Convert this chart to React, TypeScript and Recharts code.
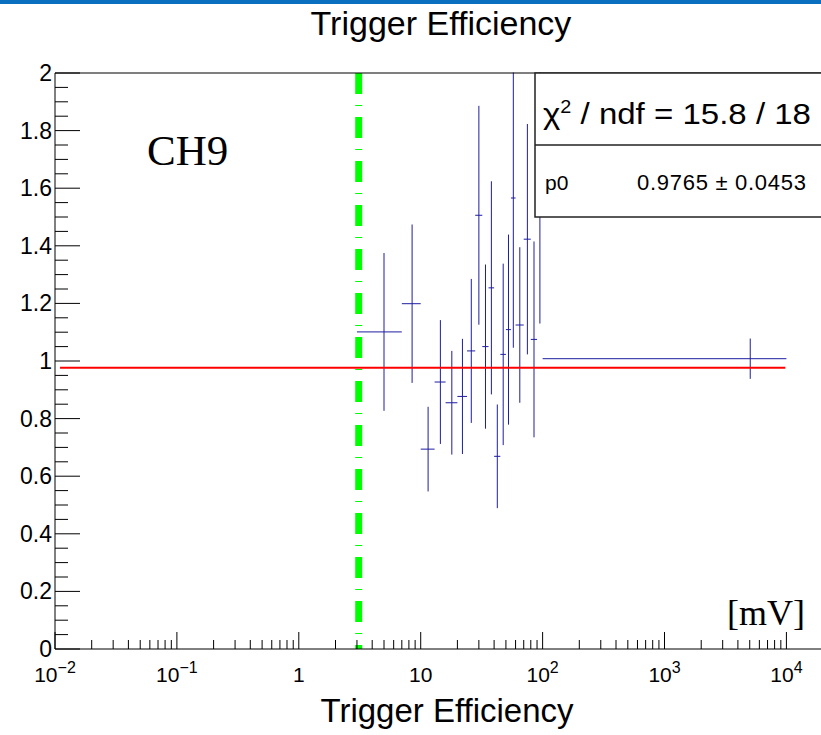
import React from 'react';
import { ScatterChart, Scatter, XAxis, YAxis, ErrorBar, ReferenceLine } from 'recharts';

// bins in mV (variable width), efficiency and its error per bin
const binLow = [3, 7, 10, 13, 16, 20, 24, 28, 32, 36, 40, 45, 50, 55, 60, 70, 80, 90, 100];
const binHigh = [7, 10, 13, 16, 20, 24, 28, 32, 36, 40, 45, 50, 55, 60, 70, 80, 90, 100, 10000];
const efficiency = [1.101, 1.199, 0.694, 0.927, 0.855, 0.877, 1.035, 1.506, 1.05, 1.254, 0.669, 1.023, 1.109, 1.566, 1.125, 1.423, 1.075, 1.63, 1.008];
const effError = [0.274, 0.275, 0.147, 0.215, 0.18, 0.2, 0.25, 0.38, 0.285, 0.37, 0.18, 0.315, 0.33, 0.52, 0.27, 0.4, 0.34, 0.5, 0.07];

// fit result (pol0)
const fitP0 = 0.9765;
const fitP0Err = 0.0453;
const chi2 = 15.8;
const ndf = 18;
const fitRange = [0.011, 9800];
const thresholdMV = 3.1;

// axis ticks
const xDecades = [0.01, 0.1, 1, 10, 100, 1000, 10000];
const xDecadeBase = ['10', '10', '1', '10', '10', '10', '10'];
const xDecadeExp = ['\u22122', '\u22121', '', '', '2', '3', '4'];
const xMinorSteps = [2, 3, 4, 5, 6, 7, 8, 9];
const yMajorTicks = [0, 0.2, 0.4, 0.6, 0.8, 1, 1.2, 1.4, 1.6, 1.8, 2];
const yMajorLabels = ['0', '0.2', '0.4', '0.6', '0.8', '1', '1.2', '1.4', '1.6', '1.8', '2'];
const yMinorStep = 0.05;

const SANS = '"Liberation Sans", Arial, Helvetica, sans-serif';
const SERIF = '"Liberation Serif", "Times New Roman", serif';
const ERR_COLOR = '#1e1ea2';

const points = binLow.map((lo, i) => {
  const hi = binHigh[i];
  return { x: (lo + hi) / 2, y: efficiency[i], xErr: (hi - lo) / 2, yErr: effError[i] };
});

const xTicks = xDecades.flatMap((d) => [d, ...xMinorSteps.map((m) => m * d)]);
const yTicks = Array.from({ length: Math.round(2 / yMinorStep) + 1 }, (_, i) => +(i * yMinorStep).toFixed(2));

function XTick(props: any) {
  const { x, y, payload } = props;
  const k = xDecades.indexOf(payload.value);
  if (k < 0) return <line x1={x} x2={x} y1={y} y2={y - 9} stroke="#000" />;
  return (
    <g>
      <line x1={x} x2={x} y1={y} y2={y - 17} stroke="#000" />
      <text x={x} y={y + 33} textAnchor="middle" fontSize={21} fontFamily={SANS} fill="#000">
        {xDecadeBase[k]}
        {xDecadeExp[k] && (
          <tspan fontSize={16} dy={-9}>
            {xDecadeExp[k]}
          </tspan>
        )}
      </text>
    </g>
  );
}

function YTick(props: any) {
  const { x, y, payload } = props;
  const k = yMajorTicks.indexOf(payload.value);
  if (k < 0) return <line x1={x} x2={x + 13} y1={y} y2={y} stroke="#000" />;
  return (
    <g>
      <line x1={x} x2={x + 25} y1={y} y2={y} stroke="#000" />
      <text x={x - 3} y={y + 8} textAnchor="end" fontSize={23} fontFamily={SANS} fill="#000">
        {yMajorLabels[k]}
      </text>
    </g>
  );
}

export default function App() {
  return (
    <div style={{ position: 'fixed', left: 0, top: 0, width: 821, height: 735, overflow: 'hidden', background: '#fff' }}>
      <ScatterChart width={860} height={735} margin={{ top: 73, right: 21, bottom: 36, left: 5 }}>
        <XAxis
          type="number"
          dataKey="x"
          scale="log"
          domain={[0.01, 27000]}
          ticks={xTicks}
          interval={0}
          tick={(p: any) => <XTick {...p} />}
          tickLine={false}
          tickSize={0}
          tickMargin={0}
          height={50}
          axisLine={{ stroke: '#000' }}
          allowDataOverflow
        />
        <YAxis
          type="number"
          dataKey="y"
          domain={[0, 2]}
          ticks={yTicks}
          interval={0}
          tick={(p: any) => <YTick {...p} />}
          tickLine={false}
          tickSize={0}
          tickMargin={0}
          width={50}
          axisLine={{ stroke: '#000' }}
          allowDataOverflow
        />
        <ReferenceLine
          segment={[{ x: thresholdMV, y: 2 }, { x: thresholdMV, y: 0 }]}
          stroke="#00ff00"
          strokeWidth={7}
          strokeDasharray="21 11 1 11"
        />
        <Scatter data={points} fill="none" shape={() => <g />} isAnimationActive={false}>
          <ErrorBar dataKey="xErr" direction="x" width={0} stroke={ERR_COLOR} strokeWidth={1} isAnimationActive={false} />
          <ErrorBar dataKey="yErr" direction="y" width={0} stroke={ERR_COLOR} strokeWidth={1} isAnimationActive={false} />
        </Scatter>
        <ReferenceLine
          segment={[{ x: fitRange[0], y: fitP0 }, { x: fitRange[1], y: fitP0 }]}
          stroke="#ff0000"
          strokeWidth={2}
        />
      </ScatterChart>
      <svg width={821} height={735} style={{ position: 'absolute', left: 0, top: 0, pointerEvents: 'none' }}>
        {/* error bars running past the frame top stay hidden */}
        <rect x={300} y={0} width={521} height={72.5} fill="#fff" />
        <line x1={55} x2={821} y1={73} y2={73} stroke="#000" strokeWidth={1.2} />
        <rect x={0} y={0} width={821} height={4} fill="#0b6fbf" />
        <text x={441} y={35} textAnchor="middle" fontSize={34} fontFamily={SANS} fill="#000">
          Trigger Efficiency
        </text>
        <text x={447} y={722} textAnchor="middle" fontSize={33} fontFamily={SANS} fill="#000">
          Trigger Efficiency
        </text>
        <text x={147} y={165} fontSize={43} fontFamily={SERIF} fill="#000">
          CH9
        </text>
        <text x={727} y={625} fontSize={36} fontFamily={SERIF} fill="#000">
          [mV]
        </text>
        <rect x={535} y={73} width={300} height={144} fill="#fff" stroke="#222" strokeWidth={1.5} />
        <line x1={535} x2={835} y1={145} y2={145} stroke="#222" strokeWidth={1.5} />
        <text x={543} y={124} fontSize={30} fontFamily={SANS} fill="#000" textLength={268} lengthAdjust="spacingAndGlyphs">
          χ
          <tspan fontSize={18} dy={-11}>2</tspan>
          <tspan dy={11}>{` / ndf =  ${chi2.toFixed(1)} / ${ndf}`}</tspan>
        </text>
        <text x={545} y={190} fontSize={21} fontFamily={SANS} fill="#000">
          p0
        </text>
        <text x={637} y={190} fontSize={22} fontFamily={SANS} fill="#000" textLength={169} lengthAdjust="spacing">
          {`${fitP0.toFixed(4)} \u00b1 ${fitP0Err.toFixed(4)}`}
        </text>
      </svg>
    </div>
  );
}
